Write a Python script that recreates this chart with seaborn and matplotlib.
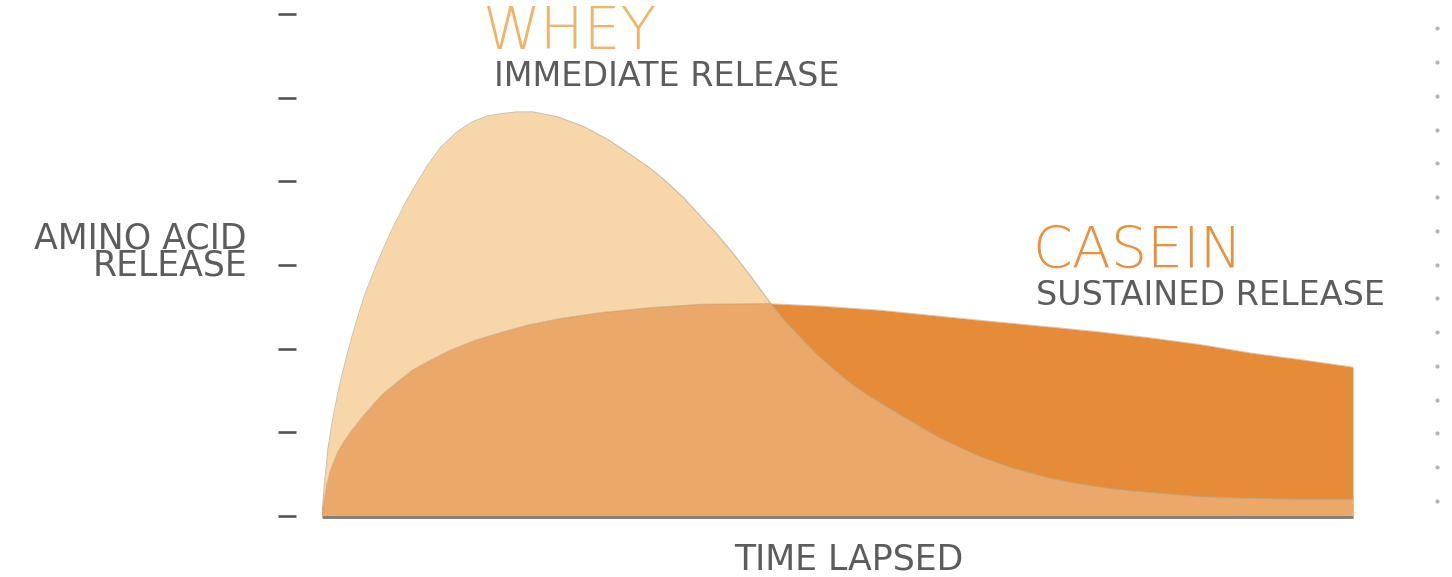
import numpy as np
import pandas as pd
import matplotlib
matplotlib.use("Agg")
import matplotlib.pyplot as plt
import seaborn as sns

# ---- data (time in % of span, release in tick units) ----
whey_time = [0, 0.10, 0.29, 0.58, 0.97, 1.55, 2.23, 3.01, 4.07, 5.33, 6.69, 8.24,
             10.18, 11.54, 13.09, 14.55, 16.00, 17.46, 18.91, 20.47, 22.89, 25.31,
             27.74, 30.16, 31.81, 33.46, 35.11, 36.66, 38.31, 39.86, 41.51, 43.16,
             43.65, 44.91, 46.36, 47.91, 49.56, 51.21, 52.86, 56.06, 59.94, 63.82,
             67.02, 70.32, 73.52, 76.92, 80.31, 85.16, 90.01, 94.86, 100]
whey_release = [0, 0.19, 0.45, 0.80, 1.11, 1.48, 1.83, 2.19, 2.62, 3.02, 3.40, 3.78,
                4.18, 4.41, 4.59, 4.71, 4.78, 4.81, 4.83, 4.83, 4.77, 4.66,
                4.50, 4.30, 4.16, 3.99, 3.80, 3.59, 3.37, 3.14, 2.88, 2.60,
                2.52, 2.33, 2.14, 1.94, 1.76, 1.59, 1.45, 1.21, 0.93, 0.71,
                0.57, 0.46, 0.38, 0.32, 0.28, 0.23, 0.21, 0.20, 0.20]
casein_time = [0, 0.10, 0.29, 0.48, 0.78, 1.07, 1.55, 2.13, 2.81, 3.69, 4.66, 5.82,
               7.18, 8.73, 10.48, 12.42, 14.84, 17.26, 19.88, 23.08, 26.96, 31.81,
               36.66, 43.16, 48.30, 54.12, 58.97, 63.82, 70.61, 75.46, 80.31, 85.16,
               90.01, 94.86, 100]
casein_release = [0, 0.11, 0.25, 0.38, 0.53, 0.63, 0.77, 0.89, 1.01, 1.15, 1.29, 1.45,
                  1.59, 1.74, 1.86, 1.98, 2.10, 2.19, 2.28, 2.36, 2.43, 2.49,
                  2.53, 2.54, 2.51, 2.46, 2.40, 2.34, 2.26, 2.20, 2.13, 2.05,
                  1.95, 1.87, 1.78]
y_ticks = [0, 1, 2, 3, 4, 5, 6]

whey_df = pd.DataFrame({"time": whey_time, "release": whey_release})
casein_df = pd.DataFrame({"time": casein_time, "release": casein_release})

# ---- style ----
sns.set_theme(style="white")
plt.rcParams["font.family"] = ["DejaVu Sans"]

WHEY_FILL = "#F7D6AA"
CASEIN_FILL = "#E68B37"
OVERLAP_FILL = "#EBA86B"
GRAY_TEXT = "#5c5c5c"

W, H = 1452, 577
fig = plt.figure(figsize=(W / 100, H / 100), dpi=100)
ax = fig.add_axes([322 / W, 1 - 516 / H, 1031 / W, 502 / H])
ax.set_xlim(0, 100)
ax.set_ylim(0, 6)

# fills
whey_poly = ax.fill_between(whey_df["time"], 0, whey_df["release"],
                            color=WHEY_FILL, lw=0, zorder=1)
ax.fill_between(casein_df["time"], 0, casein_df["release"],
                color=CASEIN_FILL, lw=0, zorder=2)
overlap = ax.fill_between(casein_df["time"], 0, casein_df["release"],
                          color=OVERLAP_FILL, lw=0, zorder=3)
overlap.set_clip_path(whey_poly.get_paths()[0], ax.transData)

# faint edges
sns.lineplot(data=whey_df, x="time", y="release", ax=ax, color="#b9a88e",
             lw=0.8, alpha=0.7, zorder=4, sort=False)
sns.lineplot(data=casein_df, x="time", y="release", ax=ax, color="#a88a6a",
             lw=0.7, alpha=0.45, zorder=4, sort=False)
ax.plot([0, 100], [-0.012, -0.012], color="#7b7b7b", lw=2.0, zorder=5,
        clip_on=False, solid_capstyle="butt")

# right decorative dotted column
dot_y = np.linspace(5.83, 0.18, 15)
ax.scatter(np.full(dot_y.shape, 108.1), dot_y, s=9, color="#b5b5b5",
           clip_on=False, zorder=5, linewidths=0)

# axes decoration
for s in ax.spines.values():
    s.set_visible(False)
ax.spines["left"].set_position(("outward", 26 * 0.72))
ax.set_yticks(y_ticks)
ax.set_yticklabels([])
ax.set_xticks([])
ax.tick_params(axis="y", left=True, direction="out", length=13, width=1.9,
               color="#555555")
ax.set_xlabel("")
ax.set_ylabel("")

# ---- texts ----
def fx(px):
    return px / W

def fy(py):
    return 1 - py / H

fig.text(fx(483), fy(49), "WHEY", color="#EFB466", fontsize=42,
         fontweight="light", va="baseline", ha="left")
fig.text(fx(494), fy(86), "IMMEDIATE RELEASE", color=GRAY_TEXT, fontsize=24,
         va="baseline", ha="left")
fig.text(fx(1032), fy(268), "CASEIN", color="#E8903B", fontsize=41,
         fontweight="light", va="baseline", ha="left")
fig.text(fx(1036), fy(305), "SUSTAINED RELEASE", color=GRAY_TEXT, fontsize=24,
         va="baseline", ha="left")
fig.text(fx(247), fy(276), "AMINO ACID\nRELEASE", color=GRAY_TEXT, fontsize=25,
         va="baseline", ha="right", multialignment="right", linespacing=0.76)
fig.text(fx(849), fy(569), "TIME LAPSED", color=GRAY_TEXT, fontsize=25,
         va="baseline", ha="center")

fig.savefig("out.png", dpi=100, facecolor="white")
